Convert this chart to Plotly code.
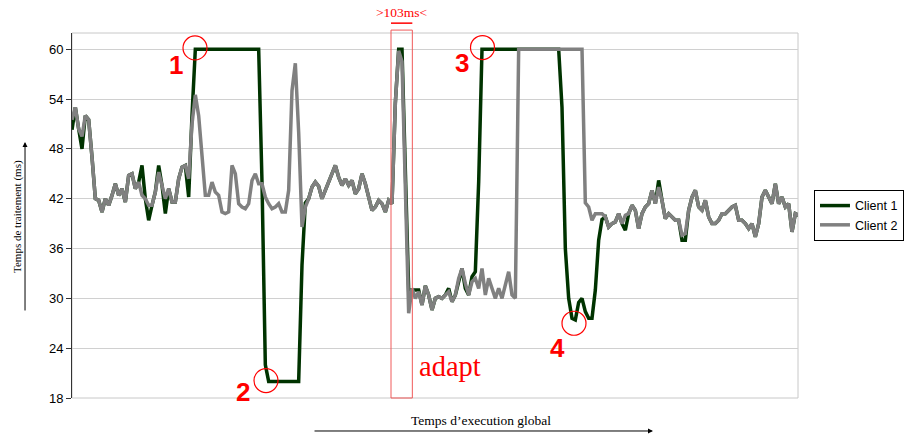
import plotly.graph_objects as go

# Processing time (ms) per sample
client1 = [
    50.3, 53.0, 50.4, 48.0, 52.0, 51.5, 47.0, 42.0, 41.8, 40.4,
    42.0, 41.2, 42.4, 43.8, 42.4, 43.2, 41.6, 44.8, 45.0, 43.2,
    44.0, 46.0, 42.0, 39.4, 41.2, 42.8, 46.0, 43.6, 40.2, 43.2,
    41.6, 41.6, 44.4, 45.8, 46.0, 42.2, 52.0, 60.0, 60.0, 60.0,
    60.0, 60.0, 60.0, 60.0, 60.0, 60.0, 60.0, 60.0, 60.0, 60.0,
    60.0, 60.0, 60.0, 60.0, 60.0, 60.0, 60.0, 44.0, 22.0, 20.0,
    20.0, 20.0, 20.0, 20.0, 20.0, 20.0, 20.0, 20.0, 20.0, 34.0,
    41.5, 42.0, 43.4, 44.0, 43.5, 42.0, 43.0, 44.2, 45.2, 46.0,
    44.6, 43.6, 44.4, 43.6, 44.2, 42.6, 43.2, 45.0, 43.8, 42.2,
    40.6, 41.0, 41.8, 41.4, 40.4, 41.8, 41.4, 53.5, 60.0, 60.0,
    47.0, 31.0, 31.0, 31.0, 31.0, 29.2, 31.5, 30.4, 28.6, 30.0,
    30.2, 30.0, 30.4, 31.2, 29.6, 30.4, 32.0, 33.6, 31.2, 30.4,
    32.6, 33.2, 44.0, 60.0, 60.0, 60.0, 60.0, 60.0, 60.0, 60.0,
    60.0, 60.0, 60.0, 60.0, 60.0, 60.0, 60.0, 60.0, 60.0, 60.0,
    60.0, 60.0, 60.0, 60.0, 60.0, 60.0, 60.0, 53.0, 36.0, 30.0,
    27.6, 27.4, 29.5, 30.0, 28.4, 27.6, 27.6, 31.0, 37.0, 39.5,
    39.8, 38.6, 39.0, 39.2, 40.2, 39.0, 38.2, 40.2, 41.2, 40.6,
    38.4, 40.2, 41.0, 41.4, 43.0, 41.4, 44.2, 41.8, 39.6, 40.2,
    39.8, 39.4, 39.4, 37.0, 37.0, 40.6, 42.2, 43.0, 41.0, 40.6,
    41.8, 39.8, 39.0, 39.0, 39.4, 40.2, 40.2, 40.6, 41.0, 41.2,
    39.4, 39.4, 39.0, 38.4, 39.0, 37.4, 39.0, 42.2, 43.0, 42.2,
    41.4, 43.8, 41.4, 42.2, 41.0, 41.4, 38.0, 40.2, 40.0,
]
client2 = [
    51.5, 53.0, 50.4, 49.5, 52.0, 51.5, 47.0, 42.0, 41.8, 40.4,
    42.0, 41.2, 42.4, 43.8, 42.4, 43.2, 41.6, 44.8, 45.0, 43.2,
    44.0, 42.4, 42.0, 41.2, 41.2, 42.8, 45.2, 43.6, 42.0, 43.2,
    41.6, 41.6, 44.4, 45.8, 46.0, 44.4, 51.0, 54.5, 52.0, 47.2,
    42.4, 42.4, 44.0, 42.8, 42.4, 40.4, 40.2, 40.4, 46.0, 45.0,
    41.4, 41.0, 40.8, 41.4, 44.2, 45.0, 43.8, 43.8, 42.2, 41.4,
    40.8, 41.0, 41.4, 40.4, 40.4, 43.0, 55.0, 58.3, 50.0, 38.6,
    41.0, 42.0, 43.4, 44.0, 43.5, 42.0, 43.0, 44.2, 45.2, 46.0,
    44.6, 43.6, 44.4, 43.6, 44.2, 42.6, 43.2, 45.0, 43.8, 42.2,
    40.6, 41.0, 41.8, 41.4, 40.4, 41.8, 41.4, 53.5, 59.8, 58.5,
    42.0, 28.2, 31.2, 30.0, 30.8, 29.2, 31.5, 30.4, 28.6, 30.0,
    30.2, 30.0, 30.4, 30.8, 29.6, 30.4, 32.4, 33.6, 31.8, 30.4,
    32.0, 32.4, 31.2, 33.6, 30.4, 32.4, 31.2, 30.0, 31.2, 30.0,
    31.6, 33.2, 30.4, 30.0, 60.0, 60.0, 60.0, 60.0, 60.0, 60.0,
    60.0, 60.0, 60.0, 60.0, 60.0, 60.0, 60.0, 60.0, 60.0, 60.0,
    60.0, 60.0, 60.0, 60.0, 41.5, 41.0, 39.4, 40.2, 40.2, 40.2,
    39.8, 38.6, 39.0, 39.2, 40.2, 39.0, 40.0, 40.2, 41.2, 40.6,
    38.4, 40.2, 41.0, 41.4, 43.0, 41.4, 43.4, 41.8, 39.6, 40.2,
    39.8, 39.4, 39.4, 37.6, 37.8, 40.6, 42.2, 43.0, 41.0, 40.6,
    41.8, 39.8, 39.0, 39.0, 39.4, 40.2, 40.2, 40.6, 41.0, 41.2,
    39.4, 39.4, 39.0, 38.4, 39.0, 37.4, 39.0, 42.2, 43.0, 42.2,
    41.4, 43.8, 41.4, 42.2, 41.0, 41.4, 38.0, 40.2, 40.0,
]
samples = list(range(len(client2)))
y_ticks = [18, 24, 30, 36, 42, 48, 54, 60]
series_names = ["Client 1", "Client 2"]

# annotated events: (label, circle anchor x, circle anchor y, label x, label y)
events = [
    ("1", 36.9, 60.15, 31.2, 58.1),
    ("2", 58.2, 20.1, 51.3, 18.7),
    ("3", 123.15, 60.2, 117.0, 58.35),
    ("4", 150.6, 27.0, 145.5, 24.0),
]
adapt_window = (95.7, 102.1)

RED = "#ff0000"
SERIF = "Liberation Serif, Times New Roman, serif"
SANS = "Liberation Sans, Arial, sans-serif"

fig = go.Figure()
fig.add_trace(go.Scatter(x=samples, y=client1, mode="lines", name=series_names[0],
                         line=dict(color="#003300", width=3.5)))
fig.add_trace(go.Scatter(x=samples, y=client2, mode="lines", name=series_names[1],
                         line=dict(color="#808080", width=3.5)))

shapes = [
    dict(type="rect", xref="paper", yref="paper", x0=0, x1=1, y0=0, y1=1,
         line=dict(color="#c8c8c8", width=1), layer="below"),
    dict(type="rect", xref="x", yref="paper", x0=adapt_window[0], x1=adapt_window[1],
         y0=0, y1=1.008, line=dict(color="#f05a5a", width=1)),
    dict(type="line", xref="x", yref="paper", x0=adapt_window[0], x1=adapt_window[1],
         y0=1.027, y1=1.027, line=dict(color=RED, width=1.5)),
]
annotations = []
for lab, cx, cy, lx, ly in events:
    shapes.append(dict(type="circle", xref="x", yref="y", xsizemode="pixel", ysizemode="pixel",
                       xanchor=cx, yanchor=cy, x0=-12, x1=12, y0=-12, y1=12,
                       line=dict(color=RED, width=1.2)))
    annotations.append(dict(x=lx, y=ly, xref="x", yref="y", text="<b>" + lab + "</b>",
                            showarrow=False,
                            font=dict(family=SANS, size=26, color=RED),
                            xanchor="center", yanchor="middle"))

annotations += [
    dict(x=sum(adapt_window) / 2, y=1.056, xref="x", yref="paper", text="&gt;103ms&lt;",
         showarrow=False, font=dict(family=SERIF, size=13.5, color=RED),
         xanchor="center", yanchor="middle"),
    dict(x=103.5, y=21.8, xref="x", yref="y", text="adapt", showarrow=False,
         font=dict(family=SERIF, size=28.5, color=RED), xanchor="left", yanchor="middle"),
    dict(x=-0.0758, y=0.4986, xref="paper", yref="paper", text="Temps de traitement (ms)",
         textangle=-90, showarrow=False, font=dict(family=SERIF, size=11, color="black"),
         xanchor="center", yanchor="middle"),
    dict(x=0.5634, y=-0.063, xref="paper", yref="paper", text="Temps d’execution global",
         showarrow=False, font=dict(family=SERIF, size=13.5, color="black"),
         xanchor="center", yanchor="middle"),
    dict(x=-0.0647, y=0.7014, xref="paper", yref="paper", text="", showarrow=True,
         ax=0, ay=170, axref="pixel", ayref="pixel", arrowhead=2, arrowsize=1,
         arrowwidth=1, arrowcolor="black"),
    dict(x=0.8003, y=-0.0904, xref="paper", yref="paper", text="", showarrow=True,
         ax=-340, ay=0, axref="pixel", ayref="pixel", arrowhead=2, arrowsize=1,
         arrowwidth=1, arrowcolor="black"),
]

fig.update_layout(
    width=909, height=434,
    margin=dict(l=72, r=111, t=33, b=36, autoexpand=False),
    paper_bgcolor="white", plot_bgcolor="white",
    font=dict(family=SANS, size=13, color="black"),
    showlegend=True,
    legend=dict(x=1.022, y=0.57, xanchor="left", yanchor="top",
                bordercolor="black", borderwidth=1, bgcolor="white",
                font=dict(family=SANS, size=12.5, color="black"),
                itemwidth=30),
    xaxis=dict(range=[0, 217.8], showticklabels=False, ticks="", showgrid=False,
               zeroline=False, showline=False),
    yaxis=dict(range=[18, 61.95], tickvals=y_ticks, ticks="outside", ticklen=5,
               tickcolor="#333", showline=True, linecolor="#333", linewidth=1,
               showgrid=True, gridcolor="#d0d0d0", gridwidth=1, zeroline=False,
               tickfont=dict(family=SANS, size=13, color="black")),
    shapes=shapes,
    annotations=annotations,
)

fig.write_html("out.html", config={"displayModeBar": False},
               post_script="document.body.style.margin='0';document.body.style.overflow='hidden';")
